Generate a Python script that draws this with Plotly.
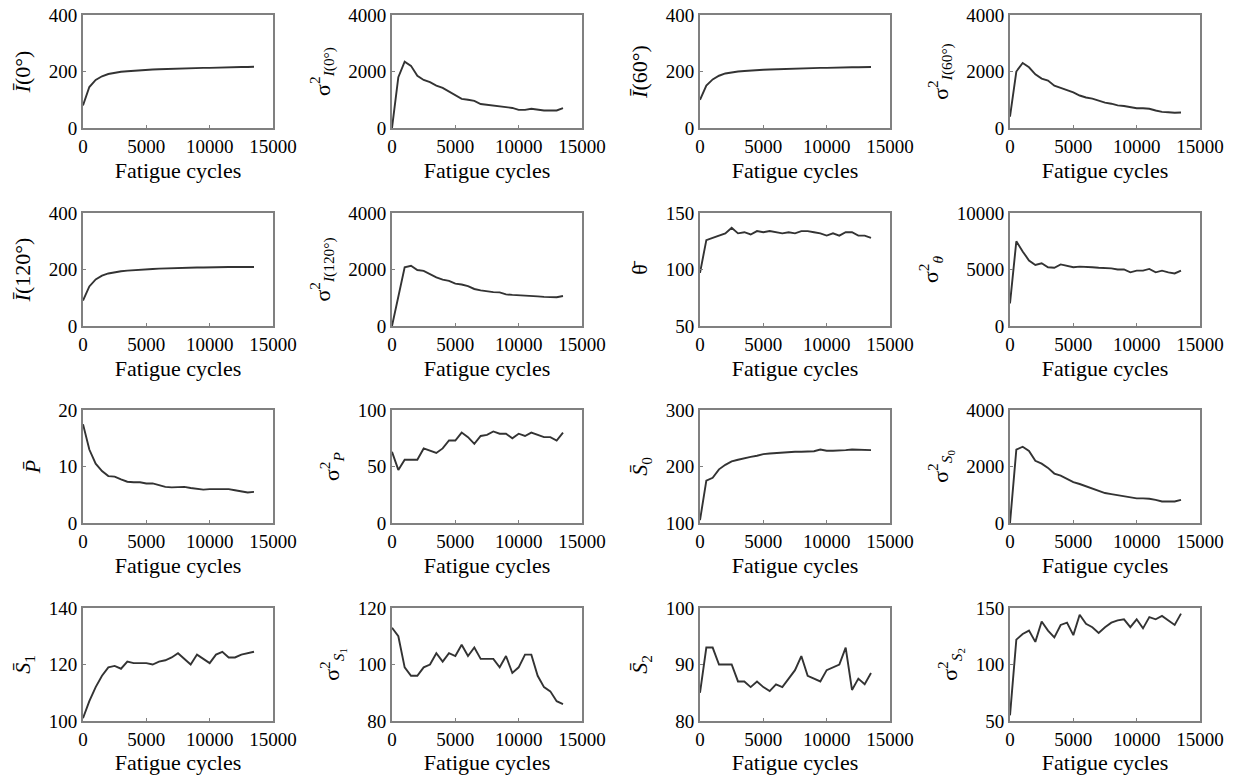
import plotly.graph_objects as go

# ---------------- data ----------------
cycles = [0, 500, 1000, 1500, 2000, 2500, 3000, 3500, 4000, 4500, 5000, 5500, 6000, 6500,
          7000, 7500, 8000, 8500, 9000, 9500, 10000, 10500, 11000, 11500, 12000, 12500, 13000, 13500]

I0_mean = [80, 145, 170, 183, 191, 196, 199, 201, 203, 205, 206, 207, 208, 209,
           210, 211, 211, 212, 212, 213, 213, 214, 214, 215, 215, 216, 216, 217]
I0_var = [0, 1800, 2350, 2200, 1850, 1700, 1620, 1500, 1420, 1280, 1150, 1030, 1000, 960,
          850, 820, 780, 750, 720, 710, 640, 640, 680, 650, 620, 620, 620, 700]
I60_mean = [100, 150, 172, 185, 193, 197, 200, 202, 204, 205, 206, 207, 208, 209,
            210, 210, 211, 212, 212, 213, 213, 214, 214, 215, 215, 215, 216, 216]
I60_var = [400, 2000, 2300, 2150, 1900, 1750, 1680, 1500, 1420, 1350, 1260, 1150, 1080, 1040,
           960, 900, 860, 800, 780, 740, 700, 700, 680, 620, 570, 560, 540, 550]
I120_mean = [90, 140, 165, 178, 186, 191, 194, 196, 198, 200, 201, 202, 203, 204,
             205, 205, 206, 206, 207, 207, 208, 208, 208, 209, 209, 209, 209, 209]
I120_var = [0, 1050, 2080, 2130, 1980, 1950, 1830, 1720, 1640, 1600, 1500, 1470, 1410, 1310,
            1260, 1220, 1200, 1190, 1120, 1100, 1090, 1070, 1080, 1050, 1030, 1020, 1020, 1060]
theta_mean = [97, 126, 128, 130, 132, 137, 132, 133, 131, 134, 133, 134, 133, 132,
              133, 132, 134, 134, 133, 132, 130, 132, 130, 133, 133, 130, 130, 128]
theta_var = [2000, 7500, 6600, 5800, 5400, 5550, 5200, 5150, 5450, 5350, 5200, 5250, 5250, 5200,
             5150, 5150, 5100, 5000, 5000, 4750, 4900, 4900, 5050, 4750, 4900, 4750, 4650, 4900]
P_mean = [17.5, 13, 10.5, 9.2, 8.3, 8.2, 7.7, 7.3, 7.2, 7.2, 7.0, 7.0, 6.7, 6.4,
          6.3, 6.4, 6.4, 6.2, 6.1, 5.9, 6.0, 6.0, 6.1, 6.0, 5.8, 5.6, 5.4, 5.5]
P_var = [63, 47, 56, 56, 56, 66, 64, 62, 66, 73, 73, 80, 76, 70,
         77, 78, 81, 79, 79, 75, 79, 77, 80, 78, 76, 76, 73, 80]
S0_mean = [105, 175, 180, 195, 203, 209, 212, 215, 217, 219, 222, 223, 224, 224,
           226, 226, 226, 226, 227, 230, 228, 228, 228, 229, 230, 230, 230, 229]
S0_var = [0, 2600, 2700, 2550, 2200, 2100, 1950, 1750, 1680, 1550, 1450, 1380, 1300, 1200,
          1120, 1060, 1020, 980, 950, 920, 870, 870, 860, 820, 760, 760, 760, 820]
S1_mean = [101, 107, 112, 116, 119, 119.5, 118.5, 121, 120.5, 120.5, 120.5, 120, 121, 121.5,
           122.5, 124, 122, 120, 123.5, 122, 120.5, 123.5, 124.5, 122.5, 122.5, 123.5, 124, 124.5]
S1_var = [113, 110, 99, 96, 96, 99, 100, 104, 101, 104, 103, 107, 103, 106,
          102, 102, 102, 99, 103, 97, 99, 103.5, 103.5, 96, 92, 90.5, 87, 86]
S2_mean = [85, 93, 93, 90, 90, 90, 87, 87, 86, 87, 86, 85.3, 86.5, 86,
           87.5, 89, 91.5, 88, 87.5, 87, 89, 89.5, 90, 93, 85.5, 87.5, 86.5, 88.5]
S2_var = [55, 122, 127, 130, 120, 138, 130, 124, 135, 137, 126, 144, 136, 133,
          128, 133, 137, 139, 140, 133, 140, 132, 142, 140, 143, 139, 135, 145]

series = [I0_mean, I0_var, I60_mean, I60_var,
          I120_mean, I120_var, theta_mean, theta_var,
          P_mean, P_var, S0_mean, S0_var,
          S1_mean, S1_var, S2_mean, S2_var]

y_titles = ["<i>Ī</i>(0°)", "σ<sup>2</sup><sub><i>I</i>(0°)</sub>",
            "<i>Ī</i>(60°)", "σ<sup>2</sup><sub><i>I</i>(60°)</sub>",
            "<i>Ī</i>(120°)", "σ<sup>2</sup><sub><i>I</i>(120°)</sub>",
            "θ̄", "σ<sup>2</sup><sub><i>θ</i></sub>",
            "<i>P̄</i>", "σ<sup>2</sup><sub><i>P</i></sub>",
            "<i>S̄</i><sub>0</sub>", "σ<sup>2</sup><sub><i>S</i><sub>0</sub></sub>",
            "<i>S̄</i><sub>1</sub>", "σ<sup>2</sup><sub><i>S</i><sub>1</sub></sub>",
            "<i>S̄</i><sub>2</sub>", "σ<sup>2</sup><sub><i>S</i><sub>2</sub></sub>"]

y_ranges = [[0, 400], [0, 4000], [0, 400], [0, 4000],
            [0, 400], [0, 4000], [50, 150], [0, 10000],
            [0, 20], [0, 100], [100, 300], [0, 4000],
            [100, 140], [80, 120], [80, 100], [50, 150]]
y_dticks = [200, 2000, 200, 2000, 200, 2000, 50, 5000,
            10, 50, 100, 2000, 20, 20, 10, 50]

x_ticks = [0, 5000, 10000, 15000]
x_title = "Fatigue cycles"

# ---------------- layout ----------------
W, H = 1242, 775
col_left = [83, 392, 700, 1010]
plot_w = 190
row_top = [15, 213, 410, 608]
plot_h = 113

font_family = "Liberation Serif, Times New Roman, serif"
frame_col = "#808080"
line_col = "#333333"
text_col = "#000000"

fig = go.Figure()
layout = dict(width=W, height=H, margin=dict(l=0, r=0, t=0, b=0, autoexpand=False),
              paper_bgcolor="white", plot_bgcolor="white",
              showlegend=False, font=dict(family=font_family, color=text_col, size=18))

for k in range(16):
    r, c = divmod(k, 4)
    n = k + 1
    xa = "x" if n == 1 else f"x{n}"
    ya = "y" if n == 1 else f"y{n}"
    fig.add_trace(go.Scatter(x=cycles, y=series[k], mode="lines",
                             line=dict(color=line_col, width=1.9),
                             xaxis=xa, yaxis=ya))
    x0 = col_left[c] / W
    x1 = (col_left[c] + plot_w) / W
    y1 = 1 - row_top[r] / H
    y0 = 1 - (row_top[r] + plot_h) / H
    axis_common = dict(showline=True, mirror=True, linecolor=frame_col, linewidth=2,
                       showgrid=False, zeroline=False, ticks="inside", ticklen=3,
                       tickcolor=frame_col, automargin=False, tickformat="d",
                       tickfont=dict(size=19, family=font_family, color=text_col))
    layout["xaxis" if n == 1 else f"xaxis{n}"] = dict(
        domain=[x0, x1], anchor=ya, range=[0, 15000], tickvals=x_ticks,
        title=dict(text=x_title, font=dict(size=22, family=font_family, color=text_col), standoff=7),
        **axis_common)
    layout["yaxis" if n == 1 else f"yaxis{n}"] = dict(
        domain=[y0, y1], anchor=xa, range=y_ranges[k], dtick=y_dticks[k], tick0=y_ranges[k][0],
        title=dict(text=y_titles[k], font=dict(size=22, family=font_family, color=text_col), standoff=12),
        **axis_common)

fig.update_layout(**layout)
fig.write_html("out.html", config={"displayModeBar": False},
               post_script="document.body.style.margin='0px';document.body.style.padding='0px';")
